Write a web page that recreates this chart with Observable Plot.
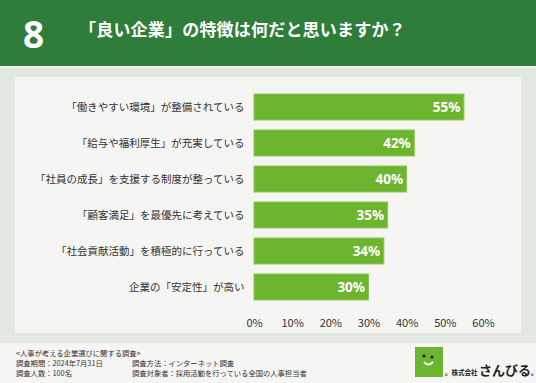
<!DOCTYPE html>
<html><head><meta charset="utf-8">
<script src="https://cdn.jsdelivr.net/npm/d3@7"></script>
<script src="https://cdn.jsdelivr.net/npm/@observablehq/plot@0.6"></script>
<style>
body{margin:0;width:536px;height:383px;overflow:hidden;background:#f5f6f3;font-family:"Noto Sans CJK JP","Noto Sans",sans-serif;position:relative}
#hdr{position:absolute;left:0;top:0;width:536px;height:66px;background:#2e7d3b}
#hdrline{position:absolute;left:0;top:66px;width:536px;height:2px;background:#f0f3ef}
#bg{position:absolute;left:0;top:68px;width:536px;height:275px;background:#e2e7e1}
#panel{position:absolute;left:15px;top:77px;width:506px;height:256px;background:#f5f6f3}
#num{position:absolute;left:23px;top:8px;color:#fff;font:bold 37px "Noto Sans","DejaVu Sans",sans-serif}
#title{position:absolute;left:79px;top:16px;color:#fff;font-weight:bold;font-size:17px;letter-spacing:0.2px}
#chart{position:absolute;left:0;top:0}
.ft{position:absolute;font-size:7.3px;line-height:10px;color:#333;white-space:nowrap}
#logo{position:absolute;left:415px;top:347px;width:28px;height:30px;background:#6db52f}
#logotext{position:absolute;left:445px;top:362px;font-size:13px;line-height:16px;font-weight:bold;color:#222;white-space:nowrap}
#logotext small{font-size:6.5px;font-weight:bold}
</style></head><body>
<div id="hdr"></div><div id="hdrline"></div><div id="bg"></div><div id="panel"></div>
<div id="num">8</div>
<div id="title">「良い企業」の特徴は何だと思いますか？</div>
<div id="chart"></div>
<div class="ft" style="left:16px;top:348px">&lt;人事が考える企業選びに関する調査&gt;</div>
<div class="ft" style="left:16px;top:358px">調査期間：2024年7月31日</div>
<div class="ft" style="left:16px;top:368px">調査人数：100名</div>
<div class="ft" style="left:132px;top:358px">調査方法：インターネット調査</div>
<div class="ft" style="left:132px;top:368px">調査対象者：採用活動を行っている全国の人事担当者</div>
<div id="logo"><svg width="28" height="30"><circle cx="9" cy="9" r="1.6" fill="#222"/><circle cx="17" cy="10" r="1.6" fill="#222"/><path d="M9 15 Q13 20 18 15" stroke="#fff" stroke-width="2" fill="none"/></svg></div>
<div id="logotext"><small>。株式会社 </small>さんびる<small>。</small></div>
<script>
const categories = [
  "「働きやすい環境」が整備されている",
  "「給与や福利厚生」が充実している",
  "「社員の成長」を支援する制度が整っている",
  "「顧客満足」を最優先に考えている",
  "「社会貢献活動」を積極的に行っている",
  "企業の「安定性」が高い"
];
const values = [55, 42, 40, 35, 34, 30];
const xTicks = [0, 10, 20, 30, 40, 50, 60];
const data = categories.map((c, i) => ({category: c, value: values[i]}));

const chart = Plot.plot({
  width: 536,
  height: 330,
  marginLeft: 254,
  marginRight: 53,
  marginTop: 81,
  marginBottom: 17,
  style: {background: "transparent", fontFamily: "'Noto Sans CJK JP', sans-serif"},
  x: {domain: [0, 60], ticks: xTicks, tickFormat: d => d + "%", label: null, tickSize: 0, tickPadding: 6},
  y: {domain: categories, padding: 0.29, label: null, tickSize: 0, tickPadding: 10},
  marks: [
    Plot.gridX(xTicks, {stroke: "#d4d6d3", strokeOpacity: 1, strokeWidth: 1, y1: categories[0], y2: categories[categories.length-1], insetTop: -13, insetBottom: -13}),
    Plot.barX(data, {x: "value", y: "category", fill: "#6db52f", stroke: "#8cc65a", strokeWidth: 1}),
    Plot.text(data, {x: "value", y: "category", text: d => d.value + "%", textAnchor: "end", dx: -4, fill: "#fff", fontWeight: "bold", fontSize: 13.5, fontFamily: "'Noto Sans', sans-serif"}),
    Plot.axisX({ticks: xTicks, tickFormat: d => d + "%", tickSize: 0, tickPadding: 6, fontSize: 11, fill: "#333", label: null}),
    Plot.axisY({tickSize: 0, tickPadding: 10, fontSize: 10.5, fill: "#333", label: null})
  ]
});
document.getElementById("chart").appendChild(chart);
</script>
</body></html>
